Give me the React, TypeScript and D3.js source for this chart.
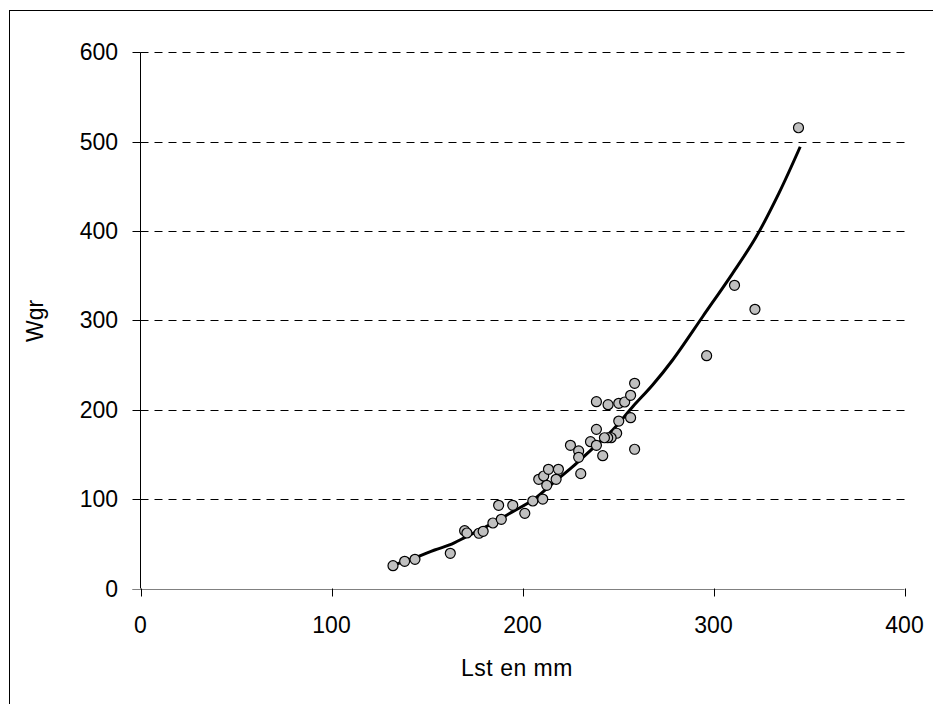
import React from "react";
import * as d3 from "d3";

const lengths = [132.2, 138.3, 143.7, 162.2, 169.7, 170.9, 177.2, 179.4, 184.5, 188.9, 187.5, 194.9, 201.2, 205.4, 210.6, 208.5, 211.1, 213.6, 212.7, 217.6, 218.8, 225.1, 229.4, 229.4, 230.5, 235.6, 238.7, 238.7, 242.0, 238.7, 244.8, 250.4, 253.5, 256.6, 258.7, 256.6, 258.7, 250.4, 249.3, 246.4, 244.6, 242.9, 296.4, 311.0, 321.7, 344.5];
const weights = [25.5, 30.4, 32.7, 39.4, 64.7, 62.1, 61.8, 64.0, 73.3, 77.4, 93.1, 93.1, 84.1, 97.9, 100.1, 122.2, 125.9, 133.4, 115.5, 122.2, 133.4, 160.2, 153.9, 146.8, 128.5, 164.3, 160.2, 178.1, 148.6, 209.0, 205.7, 207.2, 208.7, 216.2, 229.6, 191.1, 155.8, 187.4, 173.7, 168.7, 168.7, 168.7, 260.5, 339.3, 312.4, 515.6];

const fitLengths = [132, 144.4, 154, 161.8, 170.6, 181, 194.9, 205.4, 215.8, 226.3, 236.8, 247.2, 257.7, 268.1, 278.6, 294.3, 310, 322.2, 334.4, 345.4];
const fitWeights = [26, 34.9, 43.1, 48.7, 58, 69.2, 86, 99, 117.7, 136.3, 156.9, 177.4, 203.4, 227.7, 255.7, 304.1, 352.7, 393, 443, 494.3];

const xTicks = [0, 100, 200, 300, 400];
const yTicks = [0, 100, 200, 300, 400, 500, 600];
const xTitle = "Lst en mm";
const yTitle = "Wgr";

export default function App() {
  const W = 933;
  const H = 704;
  const x = d3.scaleLinear().domain([0, 400]).range([140.5, 904.5]);
  const y = d3.scaleLinear().domain([0, 600]).range([588.5, 52.3]);
  const font = "'Liberation Sans', Arial, sans-serif";
  const fs = 23;

  const line = d3
    .line<number>()
    .x((_, i) => x(fitLengths[i]))
    .y((d) => y(d))
    .curve(d3.curveCatmullRom);

  return (
    <svg
      width={W}
      height={H}
      style={{ position: "absolute", left: 0, top: 0, background: "#fff" }}
      fontFamily={font}
    >
      <rect x={0} y={0} width={W} height={H} fill="#fff" />
      {/* outer frame */}
      <rect x={9.5} y={10.5} width={W + 20} height={H + 20} fill="none" stroke="#000" strokeWidth={1} />

      {/* gridlines */}
      {yTicks
        .filter((t) => t > 0)
        .map((t) => (
          <line
            key={"g" + t}
            x1={x(0)}
            x2={x(400)}
            y1={Math.round(y(t)) + 0.5}
            y2={Math.round(y(t)) + 0.5}
            stroke="#000"
            strokeWidth={1}
            strokeDasharray="8,6"
          />
        ))}

      {/* y axis */}
      <line x1={x(0)} x2={x(0)} y1={y(600)} y2={y(0)} stroke="#000" strokeWidth={1} />
      {yTicks.map((t) => (
        <g key={"yt" + t}>
          <line x1={x(0) - 8} x2={x(0)} y1={Math.round(y(t)) + 0.5} y2={Math.round(y(t)) + 0.5} stroke={t === 0 ? "#808080" : "#000"} strokeWidth={1} />
          <text x={118} y={y(t) + 8} textAnchor="end" fontSize={fs} fill="#000">
            {t}
          </text>
        </g>
      ))}

      {/* x axis */}
      <line x1={x(0) - 8} x2={x(400)} y1={Math.round(y(0)) + 0.5} y2={Math.round(y(0)) + 0.5} stroke="#808080" strokeWidth={1.2} />
      {xTicks.map((t) => (
        <g key={"xt" + t}>
          <line x1={Math.round(x(t)) + 0.5} x2={Math.round(x(t)) + 0.5} y1={y(0)} y2={y(0) + 8} stroke="#000" strokeWidth={1} />
          <text x={x(t)} y={633} textAnchor="middle" fontSize={fs} fill="#000">
            {t}
          </text>
        </g>
      ))}

      {/* titles */}
      <text x={517} y={676} textAnchor="middle" fontSize={fs} fill="#000" letterSpacing={0.5}>
        {xTitle}
      </text>
      <text
        transform={`translate(${43}, ${321}) rotate(-90)`}
        textAnchor="middle"
        fontSize={fs}
        fill="#000"
      >
        {yTitle}
      </text>

      {/* fitted curve */}
      <path d={line(fitWeights) || ""} fill="none" stroke="#000" strokeWidth={3} strokeLinecap="butt" />

      {/* points */}
      {lengths.map((l, i) => (
        <circle key={"p" + i} cx={x(l)} cy={y(weights[i])} r={5} fill="#c0c0c0" stroke="#000" strokeWidth={1.2} />
      ))}
    </svg>
  );
}
